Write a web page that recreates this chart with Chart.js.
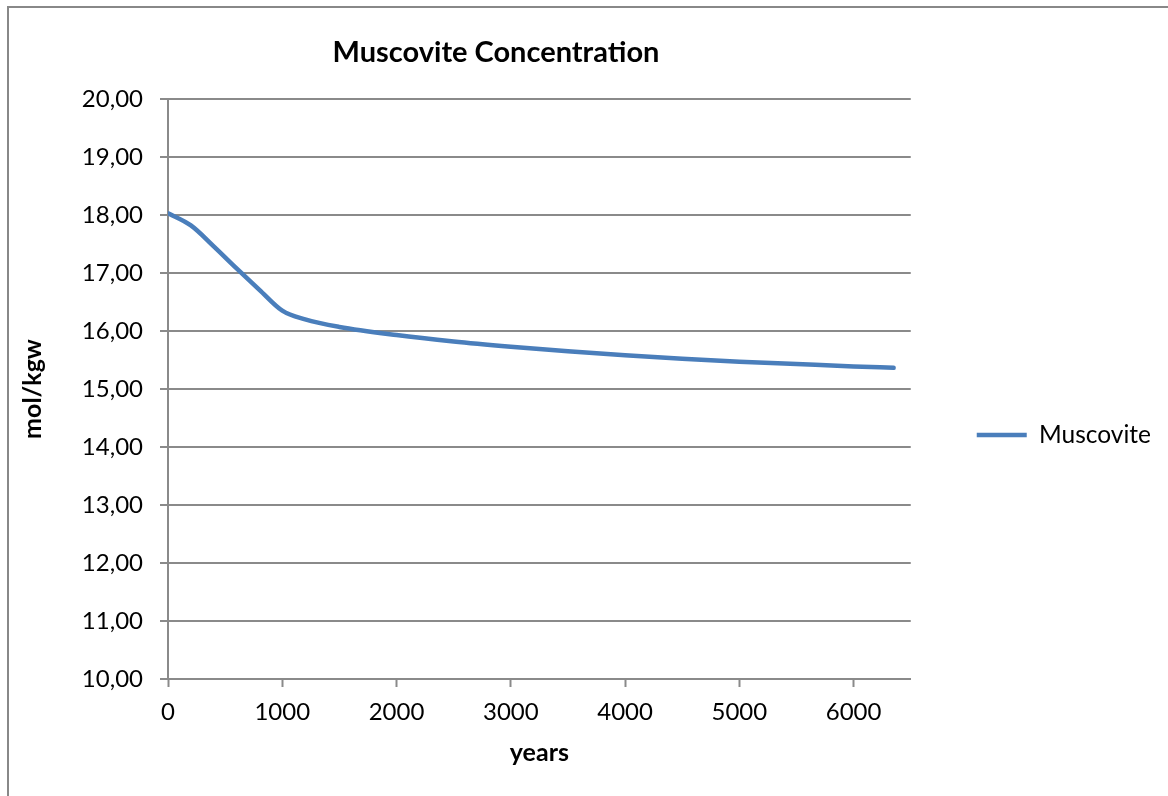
<!DOCTYPE html>
<html>
<head>
<meta charset="utf-8">
<title>Muscovite Concentration</title>
<script src="https://cdn.jsdelivr.net/npm/chart.js@4.4.1/dist/chart.umd.min.js"></script>
<style>
  html, body { margin: 0; padding: 0; background: #fff; }
  canvas { display: block; }
</style>
</head>
<body>
<canvas id="muscoviteChart" width="1168" height="796"></canvas>
<script>
// time steps (years) and muscovite amount (mol/kgw)
var years = [0, 200, 400, 600, 800, 1000, 1200, 1500, 2000, 2500, 3000, 3500, 4000, 4500, 5000, 5500, 6000, 6350];
var muscovite = [18.03, 17.82, 17.46, 17.08, 16.71, 16.35, 16.20, 16.07, 15.93, 15.82, 15.73, 15.65, 15.58, 15.52, 15.47, 15.43, 15.39, 15.365];

var yTicks = [10, 11, 12, 13, 14, 15, 16, 17, 18, 19, 20];
var xTicks = [0, 1000, 2000, 3000, 4000, 5000, 6000];

var points = years.map(function (t, i) {
    return { x: t, y: muscovite[i] };
});

var gridColor = '#8a8a8a';
var fontFamily = 'Lato, "Open Sans", sans-serif';

// white background, outer frame and the chart heading
var frame = {
    id: 'frame',
    beforeDraw: function (chart) {
        var c = chart.ctx;
        c.save();
        c.fillStyle = '#fff';
        c.fillRect(0, 0, chart.width, chart.height);
        c.strokeStyle = '#888';
        c.lineWidth = 2;
        c.beginPath();
        c.moveTo(8, chart.height);
        c.lineTo(8, 7);
        c.lineTo(chart.width, 7);
        c.stroke();
        c.restore();
    },
    afterDraw: function (chart) {
        var c = chart.ctx;
        c.save();
        c.fillStyle = '#000';
        c.font = 'bold 29px ' + fontFamily;
        c.textAlign = 'center';
        c.textBaseline = 'middle';
        c.fillText('Muscovite Concentration', 496, 53);
        c.restore();
    }
};

var ctx = document.getElementById('muscoviteChart').getContext('2d');
var chart = new Chart(ctx, {
    type: 'line',
    data: {
        datasets: [{
            label: 'Muscovite',
            data: points,
            borderColor: '#4a7ebb',
            backgroundColor: '#4a7ebb',
            borderWidth: 4.5,
            borderCapStyle: 'round',
            pointRadius: 0,
            cubicInterpolationMode: 'monotone',
            fill: false
        }]
    },
    options: {
        responsive: false,
        animation: false,
        layout: {
            padding: { top: 99, bottom: 25, left: 0, right: 7 }
        },
        plugins: {
            title: { display: false },
            tooltip: { enabled: false },
            legend: {
                position: 'right',
                maxWidth: 257,
                labels: {
                    usePointStyle: true,
                    pointStyle: 'line',
                    pointStyleWidth: 50,
                    padding: 66,
                    color: '#000',
                    font: { family: fontFamily, size: 24.5 }
                }
            }
        },
        scales: {
            x: {
                type: 'linear',
                min: 0,
                max: 6500,
                afterFit: function (scale) { scale.height = 92; },
                afterBuildTicks: function (scale) {
                    scale.ticks = xTicks.map(function (v) { return { value: v }; });
                },
                ticks: {
                    color: '#000',
                    padding: 11,
                    maxRotation: 0,
                    font: { family: fontFamily, size: 24 },
                    callback: function (v) { return String(v); }
                },
                grid: {
                    drawOnChartArea: false,
                    drawTicks: true,
                    tickLength: 8,
                    tickWidth: 2,
                    tickColor: gridColor
                },
                border: { display: true, color: gridColor, width: 2 },
                title: {
                    display: true,
                    text: 'years',
                    color: '#000',
                    padding: { top: 0, bottom: 3 },
                    font: { family: fontFamily, size: 25, weight: 'bold' }
                }
            },
            y: {
                min: 10,
                max: 20,
                afterFit: function (scale) { scale.width = 168; },
                afterBuildTicks: function (scale) {
                    scale.ticks = yTicks.map(function (v) { return { value: v }; });
                },
                ticks: {
                    color: '#000',
                    padding: 17,
                    font: { family: fontFamily, size: 24 },
                    callback: function (v) { return v.toFixed(2).replace('.', ','); }
                },
                grid: {
                    color: gridColor,
                    lineWidth: 2,
                    drawTicks: true,
                    tickLength: 8
                },
                border: { display: true, color: gridColor, width: 2 },
                title: {
                    display: true,
                    text: 'mol/kgw',
                    color: '#000',
                    padding: { top: 18, bottom: 0 },
                    font: { family: fontFamily, size: 25, weight: 'bold' }
                }
            }
        }
    },
    plugins: [frame]
});
</script>
</body>
</html>
